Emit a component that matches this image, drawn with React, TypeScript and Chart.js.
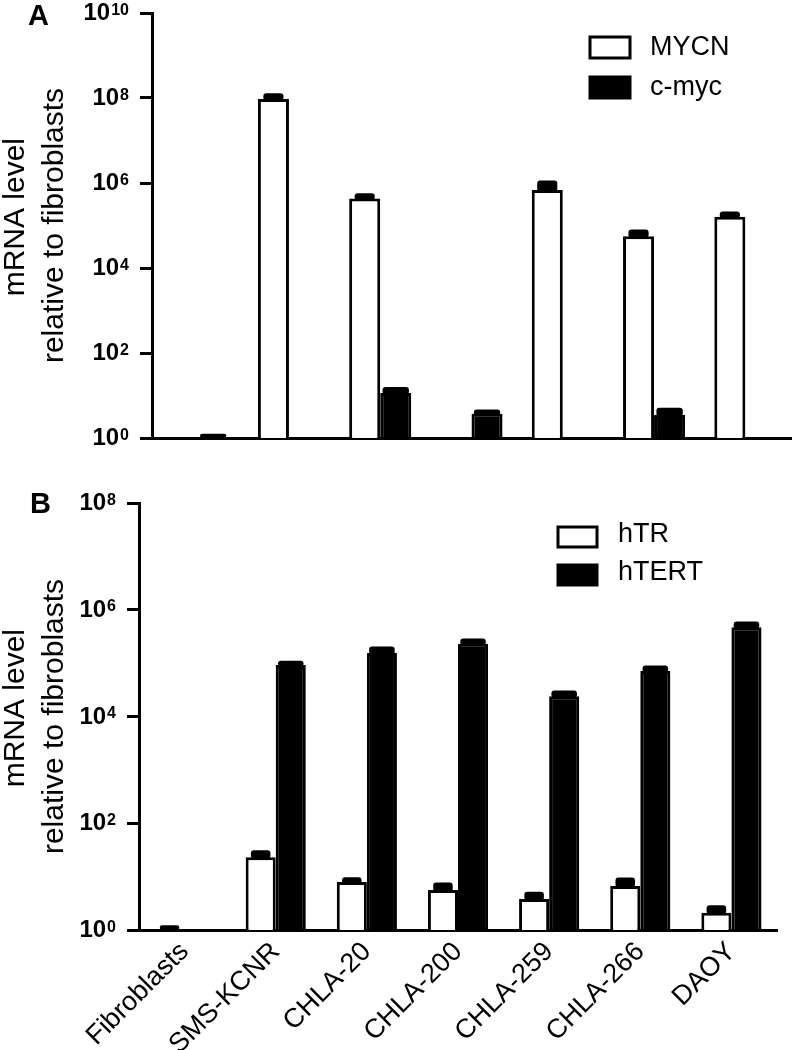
import React, { useEffect, useRef } from 'react';
import { Chart, registerables } from 'chart.js';

Chart.register(...registerables);

const FONT = "'Liberation Sans', Arial, Helvetica, sans-serif";

const CATEGORIES = ['Fibroblasts', 'SMS-KCNR', 'CHLA-20', 'CHLA-200', 'CHLA-259', 'CHLA-266', 'DAOY'];

// Panel A
const MYCN = [null, 9.5e7, 4.3e5, null, 6.8e5, 5.6e4, 1.6e5];
const MYCN_ERR = [null, 1.8e7, 7e4, null, 3.2e5, 1.4e4, 2.6e4];
const CMYC = [1, null, 11.4, 3.7, null, 3.5, null];
const CMYC_ERR = [0.1, null, 2.5, 0.4, null, 1.0, null];

// Panel B
const HTR = [1, 23, 7.9, 5.6, 3.8, 6.7, 2.1];
const HTR_ERR = [0.1, 5, 0.8, 1.4, 0.9, 1.9, 0.5];
const HTERT = [null, 9.2e4, 1.55e5, 2.3e5, 2.4e4, 7.1e4, 4.7e5];
const HTERT_ERR = [null, 8e3, 2.8e4, 3e4, 3.5e3, 1e4, 7e4];

const TICK_BASE = '10';
const TICKS_A = [1, 1e2, 1e4, 1e6, 1e8, 1e10];
const TICK_EXP_A = ['0', '2', '4', '6', '8', '10'];
const TICKS_B = [1, 1e2, 1e4, 1e6, 1e8];
const TICK_EXP_B = ['0', '2', '4', '6', '8'];

const Y_TITLE = ['  mRNA level', 'relative to fibroblasts'];

const errorBarPlugin = {
  id: 'errorBars',
  afterDatasetsDraw(chart: any, _args: any, opts: any) {
    const ctx = chart.ctx;
    const y = chart.scales.y;
    const errs = opts.errors || [];
    const capW = opts.capWidth || [];
    chart.data.datasets.forEach((ds: any, i: number) => {
      const meta = chart.getDatasetMeta(i);
      const e = errs[i];
      if (!e) return;
      meta.data.forEach((bar: any, j: number) => {
        const v = ds.data[j];
        const err = e[j];
        if (v == null || err == null) return;
        const yv = y.getPixelForValue(v);
        const yt = y.getPixelForValue(v + err) - 2.5;
        const w = bar.width * (capW[i] ?? 0.65);
        const bottom = Math.min(yv + 1.5, y.bottom);
        ctx.save();
        ctx.fillStyle = '#000';
        ctx.beginPath();
        if (ctx.roundRect) {
          ctx.roundRect(bar.x - w / 2, yt, w, Math.max(bottom - yt, 2), 3);
        } else {
          ctx.rect(bar.x - w / 2, yt, w, Math.max(bottom - yt, 2));
        }
        ctx.fill();
        ctx.restore();
      });
    });
  },
};

const powerTicksPlugin = {
  id: 'powerTicks',
  afterDraw(chart: any, _args: any, opts: any) {
    const ctx = chart.ctx;
    const s = chart.scales.y;
    const xRight = s.right - opts.tickLength - opts.gap;
    ctx.save();
    ctx.fillStyle = '#000';
    ctx.textAlign = 'right';
    ctx.textBaseline = 'alphabetic';
    opts.values.forEach((v: number, i: number) => {
      const py = s.getPixelForValue(v);
      const exp = opts.exps[i];
      ctx.font = `bold 16px ${FONT}`;
      const ew = ctx.measureText(exp).width;
      ctx.fillText(exp, xRight, py + 1.5);
      ctx.font = `bold 24px ${FONT}`;
      ctx.fillText(TICK_BASE, xRight - ew - 1, py + 7);
    });
    ctx.restore();
  },
};

const boxLegendPlugin = {
  id: 'boxLegend',
  afterDraw(chart: any, _args: any, opts: any) {
    const ctx = chart.ctx;
    ctx.save();
    chart.data.datasets.forEach((ds: any, i: number) => {
      const bx = opts.x;
      const by = opts.y + i * opts.gap;
      ctx.fillStyle = ds.backgroundColor;
      ctx.fillRect(bx, by, opts.w, opts.h);
      ctx.strokeStyle = '#000';
      ctx.lineWidth = 3;
      ctx.strokeRect(bx, by, opts.w, opts.h);
      ctx.fillStyle = '#000';
      ctx.font = `${opts.fontSize}px ${FONT}`;
      ctx.textAlign = 'left';
      ctx.textBaseline = 'alphabetic';
      ctx.fillText(ds.label, opts.textX, by + opts.textDy);
    });
    ctx.restore();
  },
};

type PanelProps = {
  top: number;
  height: number;
  datasets: any[];
  errors: any[];
  yMax: number;
  ticks: number[];
  exps: string[];
  padTop: number;
  padRight: number;
  yWidth: number;
  xHeight: number;
  showX: boolean;
  catPct: number;
  legend: any;
};

function Panel(p: PanelProps) {
  const ref = useRef<HTMLCanvasElement | null>(null);
  useEffect(() => {
    if (!ref.current) return;
    Chart.defaults.font.family = FONT;
    Chart.defaults.color = '#000';
    const chart = new Chart(ref.current, {
      type: 'bar',
      data: {
        labels: CATEGORIES,
        datasets: p.datasets.map((d) => ({
          ...d,
          categoryPercentage: p.catPct,
          barPercentage: 1,
          borderColor: '#000',
          borderWidth: 3,
          borderSkipped: 'start',
        })),
      },
      options: {
        responsive: false,
        animation: false,
        layout: { padding: { left: 0, top: p.padTop, right: p.padRight, bottom: 0 } },
        plugins: {
          legend: { display: false },
          tooltip: { enabled: false },
          errorBars: { errors: p.errors, capWidth: [0.65, 0.85] },
          boxLegend: p.legend,
          powerTicks: { values: p.ticks, exps: p.exps, tickLength: 12, gap: 11 },
        } as any,
        scales: {
          x: {
            type: 'category',
            grid: { display: false, drawTicks: false },
            border: { display: true, width: 3, color: '#000' },
            ticks: {
              display: p.showX,
              autoSkip: false,
              minRotation: 45,
              maxRotation: 45,
              padding: 6,
              font: { size: 27, family: FONT },
              color: '#000',
            },
            afterFit: (s: any) => {
              s.height = p.xHeight;
              s.paddingLeft = 0;
              s.paddingRight = 0;
            },
          },
          y: {
            type: 'logarithmic',
            min: 1,
            max: p.yMax,
            afterBuildTicks: (s: any) => {
              s.ticks = p.ticks.map((v) => ({ value: v }));
            },
            ticks: { display: false },
            grid: {
              display: true,
              drawOnChartArea: false,
              drawTicks: true,
              tickLength: 12,
              lineWidth: 3,
              color: '#000',
            },
            border: { display: true, width: 3, color: '#000' },
            title: {
              display: true,
              text: Y_TITLE,
              font: { size: 30, family: FONT, lineHeight: 1.3 },
              color: '#000',
              padding: { top: -4, bottom: 0 },
            },
            afterFit: (s: any) => {
              s.width = p.yWidth;
              s.paddingTop = 0;
              s.paddingBottom = 0;
            },
          },
        },
      } as any,
      plugins: [errorBarPlugin, boxLegendPlugin, powerTicksPlugin],
    });
    return () => chart.destroy();
  }, []);
  return (
    <canvas
      ref={ref}
      width={794}
      height={p.height}
      style={{ position: 'absolute', left: 0, top: p.top, width: 794, height: p.height }}
    />
  );
}

const labelStyle: React.CSSProperties = {
  position: 'absolute',
  fontFamily: FONT,
  fontWeight: 'bold',
  fontSize: 29,
  lineHeight: '29px',
  color: '#000',
};

export default function App() {
  return (
    <div style={{ position: 'absolute', left: 0, top: 0, width: 794, height: 1050, background: '#fff', overflow: 'hidden' }}>
      <Panel
        top={0}
        height={470}
        datasets={[
          { label: 'MYCN', data: MYCN, backgroundColor: '#ffffff' },
          { label: 'c-myc', data: CMYC, backgroundColor: '#000000' },
        ]}
        errors={[MYCN_ERR, CMYC_ERR]}
        yMax={1e10}
        ticks={TICKS_A}
        exps={TICK_EXP_A}
        padTop={13}
        padRight={3}
        yWidth={152}
        xHeight={32}
        showX={false}
        catPct={0.68}
        legend={{ x: 590, y: 37, w: 40, h: 21, gap: 40, textX: 650, textDy: 18, fontSize: 27 }}
      />
      <Panel
        top={470}
        height={580}
        datasets={[
          { label: 'hTR', data: HTR, backgroundColor: '#ffffff' },
          { label: 'hTERT', data: HTERT, backgroundColor: '#000000' },
        ]}
        errors={[HTR_ERR, HTERT_ERR]}
        yMax={1e8}
        ticks={TICKS_B}
        exps={TICK_EXP_B}
        padTop={33}
        padRight={17}
        yWidth={139}
        xHeight={120}
        showX={true}
        catPct={0.66}
        legend={{ x: 558, y: 57, w: 39, h: 20, gap: 38, textX: 618, textDy: 15, fontSize: 27 }}
      />
      <div style={{ ...labelStyle, left: 28, top: 1 }}>A</div>
      <div style={{ ...labelStyle, left: 30, top: 489 }}>B</div>
    </div>
  );
}
